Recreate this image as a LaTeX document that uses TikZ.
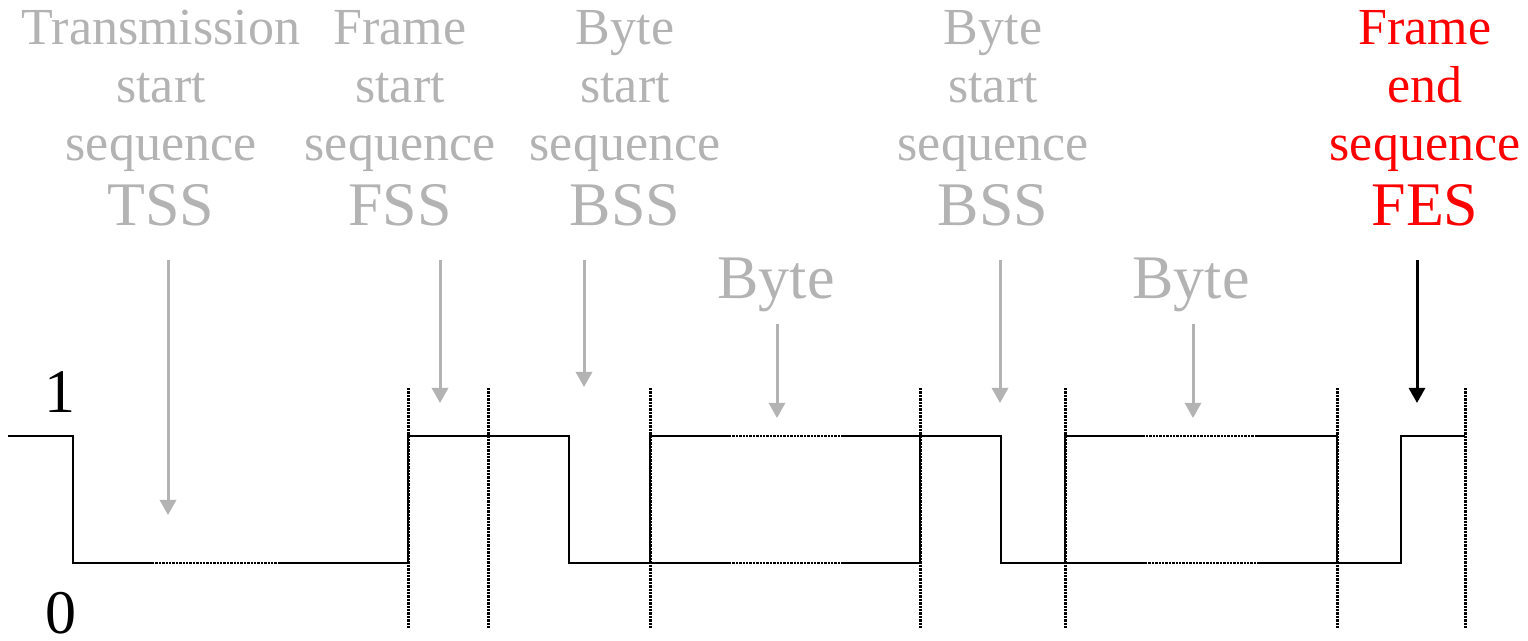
\documentclass[tikz,border=0pt]{standalone}
\usepackage{fontspec}
\setmainfont{Liberation Serif}
\usetikzlibrary{arrows.meta, positioning}

\definecolor{labelgrey}{RGB}{179,179,179}
\newcommand{\smallsize}{\fontsize{26}{29}\selectfont}
\newcommand{\bigsize}{\fontsize{31}{34}\selectfont}

\begin{document}
\begin{tikzpicture}[
        x=0.5pt,
        y=-0.5pt,
        every node/.style={inner sep=0pt},
        seqlabel/.style={align=center, anchor=south, text=labelgrey, font=\smallsize},
        bytelabel/.style={anchor=base, text=labelgrey, font=\bigsize},
        levellabel/.style={anchor=base, font=\bigsize},
        signal/.style={line width=0.75pt},
        dotsig/.style={line width=0.8pt, dash pattern=on 1.2pt off 0.5pt},
        boundary/.style={line width=1.5pt, dash pattern=on 1.2pt off 0.5pt},
        pointer/.style={line width=1.5pt, labelgrey, -{Triangle[width=8pt, length=7.5pt]}},
        endpointer/.style={pointer, black}
    ]
    \useasboundingbox (0,0) rectangle (1528,641);

    % labels
    \node[seqlabel] (tss) at (161,227) {Transmission\\start\\sequence\\[3.5pt]{\bigsize TSS}};
    \node[seqlabel] (fss) at (400,227) {Frame\\start\\sequence\\[3.5pt]{\bigsize FSS}};
    \node[seqlabel] (bssa) at (625,227) {Byte\\start\\sequence\\[3.5pt]{\bigsize BSS}};
    \node[seqlabel] (bssb) at (993,227) {Byte\\start\\sequence\\[3.5pt]{\bigsize BSS}};
    \node[seqlabel, text=red] (fes) at (1425,227) {Frame\\end\\sequence\\[3.5pt]{\bigsize FES}};
    \node[bytelabel] (bytea) at (776,299) {Byte};
    \node[bytelabel] (byteb) at (1191,299) {Byte};
    \node[levellabel] (one) at (60,413) {1};
    \node[levellabel] (zero) at (61,634) {0};

    % pointer ends
    \coordinate (tsstop) at (168,260);   \coordinate (tsstip) at (168,515);
    \coordinate (fsstop) at (440,260);   \coordinate (fsstip) at (440,403);
    \coordinate (bssatop) at (584,260);  \coordinate (bssatip) at (584,387);
    \coordinate (bssbtop) at (1000,260); \coordinate (bssbtip) at (1000,403);
    \coordinate (festop) at (1417,260);  \coordinate (festip) at (1417,403);
    \coordinate (byteatop) at (777,324); \coordinate (byteatip) at (777,418);
    \coordinate (bytebtop) at (1193,324); \coordinate (bytebtip) at (1193,418);

    \draw[pointer] (tsstop) -- (tsstip);
    \draw[pointer] (fsstop) -- (fsstip);
    \draw[pointer] (bssatop) -- (bssatip);
    \draw[pointer] (bssbtop) -- (bssbtip);
    \draw[pointer] (byteatop) -- (byteatip);
    \draw[pointer] (bytebtop) -- (bytebtip);
    \draw[endpointer] (festop) -- (festip);

    % field boundaries
    \foreach \bx in {408,488,650,920,1065,1337,1465}
        \draw[boundary] (\bx,388) -- (\bx,628);

    % waveform
    \draw[signal] (8,436) -| (73,563) -- (152,563);
    \draw[dotsig] (152,563) -- (280,563);
    \draw[signal] (280,563) -| (408,436) -| (569,563) -- (729,563);
    \draw[dotsig] (729,563) -- (841,563);
    \draw[signal] (841,563) -- (920,563) -- (920,436);
    \draw[signal] (650,563) -- (650,436) -- (729,436);
    \draw[dotsig] (729,436) -- (841,436);
    \draw[signal] (841,436) -- (1001,436) -- (1001,563) -- (1145,563);
    \draw[dotsig] (1145,563) -- (1257,563);
    \draw[signal] (1257,563) -| (1401,436) -- (1465,436);
    \draw[signal] (1337,563) -- (1337,436) -- (1257,436);
    \draw[dotsig] (1257,436) -- (1145,436);
    \draw[signal] (1145,436) -- (1065,436) -- (1065,563);
\end{tikzpicture}
\end{document}
